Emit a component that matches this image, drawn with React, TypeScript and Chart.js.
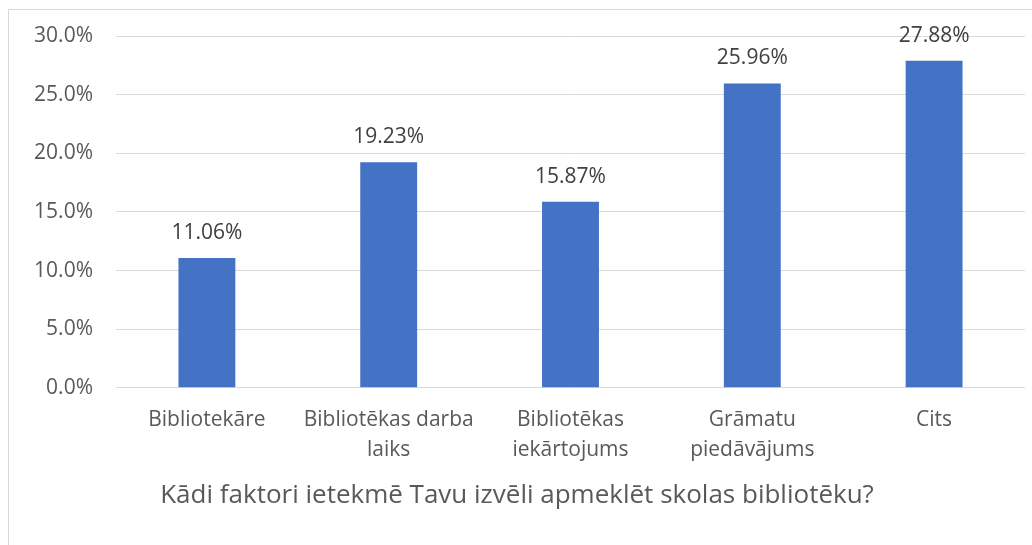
import React, { useEffect, useRef } from "react";
import { Chart, registerables } from "chart.js";

Chart.register(...registerables);

const categories: string[][] = [
  ["Bibliotekāre"],
  ["Bibliotēkas darba", "laiks"],
  ["Bibliotēkas", "iekārtojums"],
  ["Grāmatu", "piedāvājums"],
  ["Cits"],
];
const values: number[] = [11.06, 19.23, 15.87, 25.96, 27.88];
const axisTitle = "Kādi faktori ietekmē Tavu izvēli apmeklēt skolas bibliotēku?";
const yMin = 0;
const yMax = 30;
const yStep = 5;

const FONT = "'Open Sans', 'Noto Sans', sans-serif";

const dataLabels = {
  id: "dataLabels",
  afterDatasetsDraw(chart: any) {
    const ctx = chart.ctx;
    const meta = chart.getDatasetMeta(0);
    ctx.save();
    ctx.font = `21px ${FONT}`;
    ctx.fillStyle = "#404040";
    ctx.textAlign = "center";
    ctx.textBaseline = "middle";
    meta.data.forEach((bar: any, i: number) => {
      ctx.fillText(values[i].toFixed(2) + "%", bar.x, bar.y - 25);
    });
    ctx.restore();
  },
};

export default function App() {
  const ref = useRef<HTMLCanvasElement | null>(null);
  useEffect(() => {
    if (!ref.current) return;
    const chart = new Chart(ref.current, {
      type: "bar",
      data: {
        labels: categories,
        datasets: [
          {
            data: values,
            backgroundColor: "#4472C4",
            borderWidth: 0,
            categoryPercentage: 1,
            barPercentage: 0.313,
          },
        ],
      },
      options: {
        responsive: false,
        animation: false,
        layout: { padding: { left: 0, right: 7, top: 26, bottom: 0 } },
        plugins: {
          legend: { display: false },
          tooltip: { enabled: false },
          title: {
            display: true,
            position: "bottom",
            text: axisTitle,
            color: "#595959",
            font: { family: FONT, size: 26, weight: "normal", lineHeight: 1.2 },
            padding: { top: 0, bottom: 34 },
          },
        },
        scales: {
          x: {
            grid: { display: false, drawTicks: false },
            border: { display: false },
            ticks: {
              color: "#595959",
              font: { family: FONT, size: 21, lineHeight: 1.4 },
              padding: 18,
              maxRotation: 0,
              autoSkip: false,
            },
            afterFit(scale: any) {
              scale.height = 92;
            },
          },
          y: {
            min: yMin,
            max: yMax,
            grid: { color: "#d9d9d9", lineWidth: 1, drawTicks: false },
            border: { display: false },
            ticks: {
              stepSize: yStep,
              color: "#595959",
              font: { family: FONT, size: 21 },
              padding: 23,
              callback: (v: any) => Number(v).toFixed(1) + "%",
            },
            afterFit(scale: any) {
              scale.width = 107;
              scale.paddingTop = 10;
              scale.paddingBottom = 10;
            },
          },
        },
      },
      plugins: [dataLabels],
    });
    return () => chart.destroy();
  }, []);
  return (
    <div
      style={{
        position: "fixed",
        left: 8,
        top: 9,
        width: 1024,
        height: 536,
        borderLeft: "1px solid #d9d9d9",
        borderTop: "1px solid #d9d9d9",
        overflow: "hidden",
        background: "#fff",
      }}
    >
      <canvas ref={ref} width={1023} height={535} style={{ display: "block" }} />
    </div>
  );
}
